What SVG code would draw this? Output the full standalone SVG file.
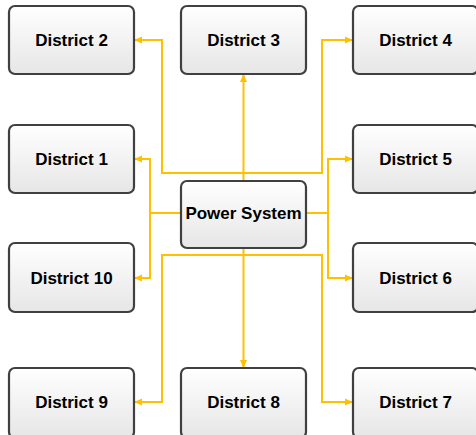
<svg xmlns="http://www.w3.org/2000/svg" width="476" height="435" viewBox="0 0 476 435">
<defs>
<linearGradient id="g" x1="0" y1="0" x2="0" y2="1">
<stop offset="0" stop-color="#ffffff"/>
<stop offset="1" stop-color="#e6e6e6"/>
</linearGradient>
<marker id="ah" viewBox="0 0 8 8" refX="7" refY="4" markerWidth="8" markerHeight="8" markerUnits="userSpaceOnUse" orient="auto">
<path d="M0,0.5 L8,4 L0,7.5 Z" fill="#FFC000"/>
</marker>
<style>
.box{fill:url(#g);stroke:#404040;stroke-width:2.2}
.t{font-family:"Liberation Sans",Arial,sans-serif;font-weight:bold;font-size:17px;fill:#000;text-anchor:middle}
.c{fill:none;stroke:#FFC000;stroke-width:2}
.a{marker-end:url(#ah)}
</style>
</defs>
<g id="connectors">
<path class="c a" d="M243.5,181 V75"/>
<path class="c a" d="M243.5,248 V367"/>
<path class="c a" d="M243.5,173 H162 V40 H135"/>
<path class="c a" d="M243.5,173 H322 V40 H352"/>
<path class="c" d="M182,213 H150"/>
<path class="c a" d="M150,213 V159 H135"/>
<path class="c a" d="M150,213 V278 H135"/>
<path class="c" d="M306,213 H328"/>
<path class="c a" d="M328,213 V159 H352"/>
<path class="c a" d="M328,213 V278 H352"/>
<path class="c a" d="M243.5,255 H162 V402 H135"/>
<path class="c a" d="M243.5,255 H322 V402 H352"/>
</g>
<g id="d2"><rect class="box" x="9" y="6" width="125" height="68" rx="6"/><text class="t" x="71.5" y="46">District 2</text></g>
<g id="d3"><rect class="box" x="181" y="6" width="125" height="68" rx="6"/><text class="t" x="243.5" y="46">District 3</text></g>
<g id="d4"><rect class="box" x="353" y="6" width="125" height="68" rx="6"/><text class="t" x="415.5" y="46">District 4</text></g>
<g id="d1"><rect class="box" x="9" y="125" width="125" height="68" rx="6"/><text class="t" x="71.5" y="165">District 1</text></g>
<g id="d5"><rect class="box" x="353" y="125" width="125" height="68" rx="6"/><text class="t" x="415.5" y="165">District 5</text></g>
<g id="ps"><rect class="box" x="181" y="181" width="125" height="67" rx="6"/><text class="t" x="243.5" y="219">Power System</text></g>
<g id="d10"><rect class="box" x="9" y="243" width="125" height="69" rx="6"/><text class="t" x="71.5" y="284">District 10</text></g>
<g id="d6"><rect class="box" x="353" y="243" width="125" height="69" rx="6"/><text class="t" x="415.5" y="284">District 6</text></g>
<g id="d9"><rect class="box" x="9" y="368" width="125" height="70" rx="6"/><text class="t" x="71.5" y="408">District 9</text></g>
<g id="d8"><rect class="box" x="181" y="368" width="125" height="70" rx="6"/><text class="t" x="243.5" y="408">District 8</text></g>
<g id="d7"><rect class="box" x="353" y="368" width="125" height="70" rx="6"/><text class="t" x="415.5" y="408">District 7</text></g>
</svg>
